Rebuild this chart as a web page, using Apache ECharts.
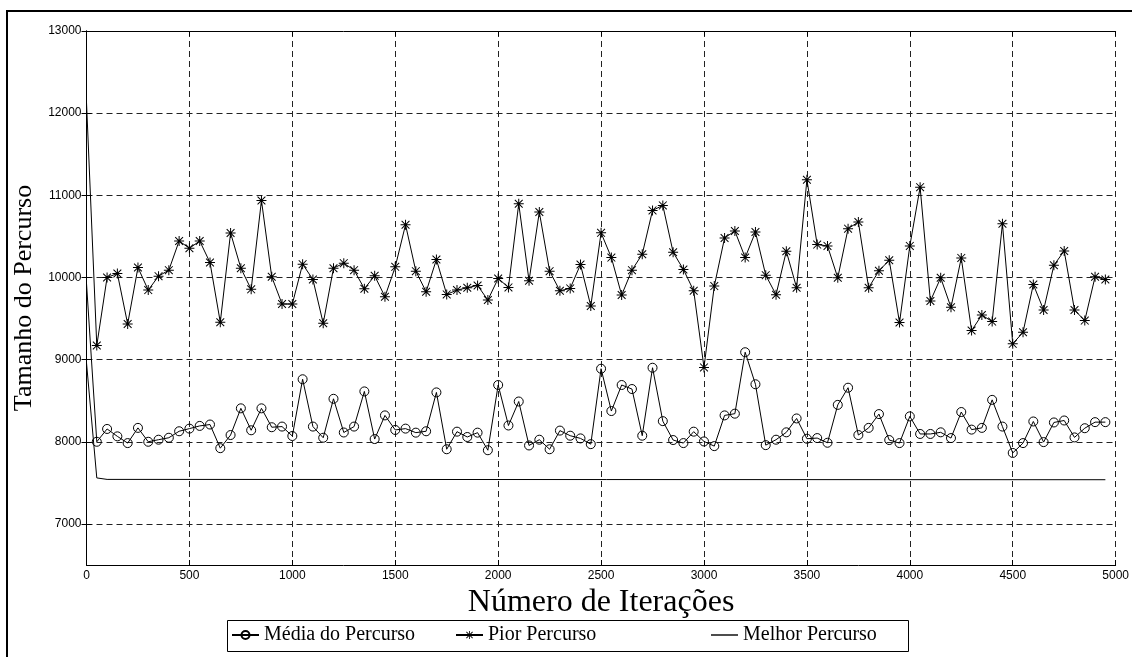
<!DOCTYPE html>
<html>
<head>
<meta charset="utf-8">
<script src="https://cdn.jsdelivr.net/npm/echarts@6/dist/echarts.min.js"></script>
<style>
  html, body { margin: 0; padding: 0; background: #fff; }
  #chart { width: 1132px; height: 657px; }
</style>
</head>
<body>
<div id="chart"></div>
<script>
// Iteration counts sampled every 50 steps
const iteracoes = [0,50,100,150,200,250,300,350,400,450,500,550,600,650,700,750,800,850,900,950,
  1000,1050,1100,1150,1200,1250,1300,1350,1400,1450,1500,1550,1600,1650,1700,1750,1800,1850,1900,1950,
  2000,2050,2100,2150,2200,2250,2300,2350,2400,2450,2500,2550,2600,2650,2700,2750,2800,2850,2900,2950,
  3000,3050,3100,3150,3200,3250,3300,3350,3400,3450,3500,3550,3600,3650,3700,3750,3800,3850,3900,3950,
  4000,4050,4100,4150,4200,4250,4300,4350,4400,4450,4500,4550,4600,4650,4700,4750,4800,4850,4900,4950];

// Average tour length of the population
const mediaPercurso = [9927,8000,8156,8066,7984,8169,8000,8025,8049,8128,8160,8193,8210,7922,8082,8407,8140,8407,8177,8185,
  8070,8761,8185,8049,8523,8113,8185,8613,8033,8321,8144,8160,8111,8128,8601,7909,8123,8058,8111,7897,
  8691,8198,8490,7955,8025,7909,8136,8074,8041,7971,8889,8374,8691,8642,8074,8901,8251,8021,7984,8123,
  8004,7947,8321,8342,9090,8700,7959,8025,8115,8284,8037,8045,7988,8449,8658,8082,8169,8337,8021,7984,
  8309,8095,8095,8115,8045,8362,8148,8169,8510,8185,7864,7984,8247,7996,8235,8259,8053,8165,8239,8239];

// Worst tour length of the population
const piorPercurso = [12130,9172,10000,10048,9434,10121,9846,10016,10089,10444,10356,10444,10182,9455,10541,10113,9855,10937,10008,9677,
  9677,10162,9976,9442,10113,10174,10089,9863,10020,9766,10129,10642,10077,9826,10218,9794,9846,9875,9903,9725,
  9988,9879,10897,9960,10796,10077,9838,9867,10158,9653,10543,10242,9786,10089,10283,10816,10877,10307,10097,9838,
  8905,9895,10481,10566,10242,10553,10028,9790,10319,9875,11190,10400,10384,9996,10594,10675,9875,10081,10210,9451,
  10384,11099,9713,9996,9636,10238,9354,9543,9463,10654,9192,9333,9915,9604,10149,10323,9604,9475,10008,9976];

// Best tour length found so far: [iteration, length]
const melhorPercurso = [[0,8960],[50,7560],[100,7542],[4950,7538]];

const seriesNames = ['Média do Percurso', 'Pior Percurso', 'Melhor Percurso'];
const yTicks = [7000,8000,9000,10000,11000,12000,13000];

const serifFont = "'Liberation Serif', 'Times New Roman', serif";
const sansFont = "'Liberation Sans', Arial, sans-serif";

// Asterisk marker built from four thin bars
const asterisco = 'path://M0 9L20 9L20 11L0 11Z M9 0L11 0L11 20L9 20Z M2.9 1.5L18.5 17.1L17.1 18.5L1.5 2.9Z M17.1 1.5L18.5 2.9L2.9 18.5L1.5 17.1Z';
// Plain segment used as the legend icon of the best-tour line
const segmento = 'path://M0 0L27 0L27 1.4L0 1.4Z';

const pairs = (xs, ys) => xs.map((x, i) => {
  const item = { value: [x, ys[i]] };
  if (i === 0) item.symbol = 'none';
  return item;
});

const gridDash = { color: '#222', width: 1, type: [6, 4] };
const plainNumber = v => String(v);

// Legend box and its three entries
const legendBox = { x: 227, y: 620, width: 681, height: 31 };
const legendOffsets = [4, 228, 484];
const legends = seriesNames.map((name, i) => ({
  left: legendBox.x + legendOffsets[i],
  top: legendBox.y + 5,
  padding: 0,
  itemWidth: 27, itemHeight: 10,
  textStyle: { fontFamily: serifFont, fontSize: 20, color: '#000' },
  data: [i === 2 ? { name, icon: segmento } : name]
}));

const chart = echarts.init(document.getElementById('chart'), null, { renderer: 'canvas' });

chart.setOption({
  backgroundColor: '#fff',
  animation: false,
  graphic: [{
    type: 'rect',
    shape: { x: 7, y: 11, width: 1200, height: 700 },
    style: { fill: 'none', stroke: '#000', lineWidth: 2 },
    silent: true
  }, {
    type: 'rect',
    shape: { x: legendBox.x + 0.5, y: legendBox.y + 0.5, width: legendBox.width, height: legendBox.height },
    style: { fill: 'none', stroke: '#000', lineWidth: 1 },
    silent: true
  }],
  grid: { left: 86.5, top: 31, right: 15, bottom: 92, containLabel: false },
  legend: legends,
  xAxis: [{
    type: 'value', min: 0, max: 5000, interval: 500,
    name: 'Número de Iterações', nameLocation: 'middle', nameGap: 22,
    nameTextStyle: { fontFamily: serifFont, fontSize: 32, color: '#000' },
    axisLine: { show: true, lineStyle: { color: '#000', width: 1 } },
    axisTick: { show: true, inside: true, length: 5, lineStyle: { color: '#000' } },
    axisLabel: { fontFamily: sansFont, fontSize: 12, color: '#000', margin: 5, formatter: plainNumber },
    splitLine: { show: true, lineStyle: gridDash }
  }, {
    type: 'value', min: 0, max: 5000, interval: 500, position: 'top',
    axisLine: { show: true, lineStyle: { color: '#000', width: 1 } },
    axisTick: { show: true, inside: true, length: 5, lineStyle: { color: '#000' } },
    axisLabel: { show: false },
    splitLine: { show: false }
  }],
  yAxis: [{
    type: 'value', min: 6500, max: 13000,
    name: 'Tamanho do Percurso', nameLocation: 'middle', nameGap: 42,
    nameTextStyle: { fontFamily: serifFont, fontSize: 26, color: '#000' },
    axisLine: { show: true, lineStyle: { color: '#000', width: 1 } },
    axisTick: { show: true, inside: true, length: 5, customValues: yTicks, lineStyle: { color: '#000' } },
    axisLabel: { fontFamily: sansFont, fontSize: 12, color: '#000', margin: 5, customValues: yTicks, formatter: plainNumber },
    splitLine: { show: true, lineStyle: gridDash }
  }, {
    type: 'value', min: 6500, max: 13000, position: 'right',
    axisLine: { show: true, lineStyle: { color: '#000', width: 1 } },
    axisTick: { show: true, inside: true, length: 5, customValues: yTicks, lineStyle: { color: '#000' } },
    axisLabel: { show: false, customValues: yTicks },
    splitLine: { show: false }
  }],
  series: [{
    name: seriesNames[0], type: 'line',
    data: pairs(iteracoes, mediaPercurso),
    symbol: 'circle', symbolSize: 9, showAllSymbol: true,
    itemStyle: { color: 'rgba(255,255,255,0)', borderColor: '#000', borderWidth: 1 },
    lineStyle: { color: '#000', width: 1 },
    z: 3
  }, {
    name: seriesNames[1], type: 'line',
    data: pairs(iteracoes, piorPercurso),
    symbol: asterisco, symbolSize: 10, showAllSymbol: true,
    itemStyle: { color: '#000' },
    lineStyle: { color: '#000', width: 1 },
    z: 3
  }, {
    name: seriesNames[2], type: 'line',
    data: melhorPercurso,
    symbol: 'none',
    itemStyle: { color: '#000' },
    lineStyle: { color: '#000', width: 1 },
    z: 3
  }]
});
</script>
</body>
</html>
